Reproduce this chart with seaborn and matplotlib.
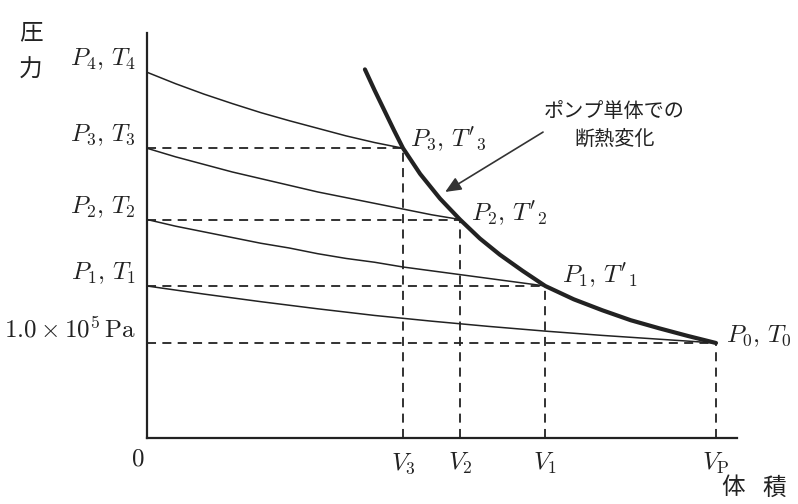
import numpy as np
import pandas as pd
import seaborn as sns
import matplotlib.pyplot as plt

# 体積 (V_P = 1) と 圧力 (P_0 = 1) の目盛り値
V_P, V_1, V_2, V_3 = 1.0, 0.70, 0.55, 0.45
P_0, P_1, P_2, P_3, P_4 = 1.0, 1.6, 2.3, 3.05, 3.85

x_ticks = [V_3, V_2, V_1, V_P]
x_labels = [r'$V_3$', r'$V_2$', r'$V_1$', r'$V_\mathrm{P}$']
y_ticks = [P_0, P_1, P_2, P_3, P_4]
y_labels = [r'$1.0\times10^5\,\mathrm{Pa}$', r'$P_1,\,T_1$', r'$P_2,\,T_2$',
            r'$P_3,\,T_3$', r'$P_4,\,T_4$']

# ポンプ単体での断熱変化 (太線)
adiabat_v = [0.383, 0.400, 0.417, 0.434, 0.45, 0.48, 0.515, 0.55, 0.585,
             0.62, 0.66, 0.70, 0.75, 0.80, 0.85, 0.90, 0.95, 1.0]
adiabat_p = [3.88, 3.66, 3.45, 3.24, 3.05, 2.78, 2.52, 2.30, 2.10,
             1.93, 1.76, 1.60, 1.46, 1.345, 1.24, 1.155, 1.075, 1.0]

# 細線の曲線 (縦軸から各点へ)
curve4_v = [0, 0.05, 0.10, 0.15, 0.20, 0.25, 0.30, 0.35, 0.40, 0.45]
curve4_p = [3.85, 3.73, 3.62, 3.52, 3.425, 3.34, 3.26, 3.18, 3.11, 3.05]
curve3_v = [0, 0.05, 0.10, 0.15, 0.20, 0.25, 0.30, 0.35, 0.40, 0.45, 0.50, 0.55]
curve3_p = [3.05, 2.96, 2.88, 2.80, 2.73, 2.66, 2.59, 2.53, 2.47, 2.41, 2.35, 2.30]
curve2_v = [0, 0.05, 0.10, 0.15, 0.20, 0.25, 0.30, 0.35, 0.40, 0.45,
            0.50, 0.55, 0.60, 0.65, 0.70]
curve2_p = [2.30, 2.23, 2.17, 2.11, 2.05, 2.00, 1.94, 1.89, 1.85, 1.80,
            1.76, 1.72, 1.68, 1.64, 1.60]
curve1_v = [0, 0.1, 0.2, 0.3, 0.4, 0.5, 0.6, 0.7, 0.8, 0.9, 1.0]
curve1_p = [1.60, 1.515, 1.435, 1.36, 1.29, 1.23, 1.175, 1.125, 1.08, 1.04, 1.0]

# 点のラベル
pt_v = [V_3, V_2, V_1, V_P]
pt_p = [P_3, P_2, P_1, P_0]
pt_labels = [r"$P_3,\,T'_3$", r"$P_2,\,T'_2$", r"$P_1,\,T'_1$", r'$P_0,\,T_0$']

sns.set_theme(style='white')
plt.rcParams['font.family'] = ['Noto Sans CJK JP', 'DejaVu Sans']
plt.rcParams['mathtext.fontset'] = 'cm'
ink = '#222222'

fig = plt.figure(figsize=(7.98, 5.04), dpi=100)
ax = fig.add_axes([147 / 798, 66 / 504, 590 / 798, 405 / 504])

thin = dict(color=ink, linewidth=1.1, sort=False, estimator=None, ax=ax)
for cv, cp in [(curve4_v, curve4_p), (curve3_v, curve3_p),
               (curve2_v, curve2_p), (curve1_v, curve1_p)]:
    sns.lineplot(x=cv, y=cp, **thin)

# 破線
for v, p in zip(pt_v, pt_p):
    ax.plot([0, v], [p, p], color=ink, lw=1.3, ls=(0, (5, 3.5)))
    ax.plot([v, v], [0, p], color=ink, lw=1.3, ls=(0, (5, 3.5)))

sns.lineplot(x=adiabat_v, y=adiabat_p, color=ink, linewidth=3.0,
             sort=False, estimator=None, ax=ax)

ax.set_xlim(0, 590 / 569)
ax.set_ylim(0, 405 / 95)
ax.set_xticks(x_ticks, x_labels, fontsize=18)
ax.set_yticks(y_ticks, y_labels, fontsize=18)
ax.tick_params(axis='both', length=0, colors=ink)
ax.tick_params(axis='x', pad=9)
ax.tick_params(axis='y', pad=8)
for lab in ax.get_yticklabels():
    lab.set_verticalalignment('bottom')
for side in ['top', 'right']:
    ax.spines[side].set_visible(False)
for side in ['left', 'bottom']:
    ax.spines[side].set_color(ink)
    ax.spines[side].set_linewidth(1.6)

offsets = [(5, 6), (8, 4), (12, 7), (7, 5)]
for v, p, lab, off in zip(pt_v, pt_p, pt_labels, offsets):
    ax.annotate(lab, (v, p), xytext=off, textcoords='offset points',
                fontsize=18, va='center', ha='left', color=ink)

ax.annotate('', xy=(0.524, 2.59), xytext=(0.696, 3.22),
            arrowprops=dict(arrowstyle='-|>,head_length=0.8,head_width=0.35',
                            color='#333333', lw=1.2, shrinkA=0, shrinkB=0,
                            facecolor='#555555'))
ax.text(0.821, 3.03, 'ポンプ単体での\n断熱変化', fontsize=14.5, ha='center',
        va='bottom', linespacing=1.45, color=ink)

fig.text(31 / 798, 1 - 33 / 504, '圧', fontsize=17, ha='center', va='center', color=ink)
fig.text(31 / 798, 1 - 70 / 504, '力', fontsize=17, ha='center', va='center', color=ink)
fig.text(733 / 798, 1 - 488 / 504, '体', fontsize=17, ha='center', va='center', color=ink)
fig.text(774 / 798, 1 - 488 / 504, '積', fontsize=17, ha='center', va='center', color=ink)
fig.text(138 / 798, 1 - 458 / 504, r'$0$', fontsize=18, ha='center', va='center', color=ink)

fig.savefig('out.png', dpi=100)
